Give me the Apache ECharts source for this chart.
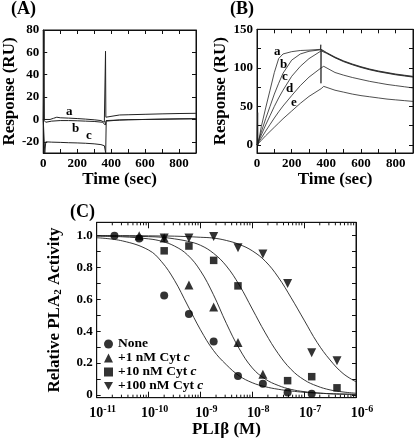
<!DOCTYPE html>
<html><head><meta charset="utf-8">
<script src="https://cdn.jsdelivr.net/npm/echarts@6/dist/echarts.min.js"></script>
<style>html,body{margin:0;padding:0;background:#fff}#c{width:416px;height:442px}</style>
</head><body><div id="c"></div>
<script>
// ---------- Panel A: sensorgrams (Time sec, Response RU) ----------
const aT_a = [0, 3, 5, 7, 15, 40, 60, 80, 100, 150, 200, 250, 300, 340, 360, 365, 367, 369, 372, 380, 450, 500, 600, 700, 800, 900];
const aV_a = [0, 0, 80, 0, -1, 0, 1, 2, 1.5, 1.2, 0.8, 0.3, -0.3, -1, -2.5, -4, 61, 2, 3, 3.5, 4, 4.2, 4.6, 5, 5.3, 5.5];
const aT_b = [0, 10, 15, 50, 100, 150, 200, 250, 300, 350, 360, 366, 370, 380, 450, 500, 600, 700, 800, 900];
const aV_b = [0, 0, -2.5, -1.5, -1, -1, -1.2, -1.5, -1.8, -2.5, -3, -5, -1, -1, -0.5, -0.3, 0, 0.2, 0.5, 0.6];
const aT_c = [0, 6, 9, 15, 50, 100, 150, 200, 250, 300, 340, 360, 366, 368, 371, 380, 450, 500, 600, 700, 800, 900];
const aV_c = [0, 0, -30, -20, -20.3, -20.5, -20.8, -21, -21.3, -21.8, -22.5, -23.5, -24, -30, -1.5, -1, -0.5, -0.2, 0, 0.3, 0.5, 0.7];

// ---------- Panel B: sensorgrams ----------
const bT_a = [0, 2, 4, 6, 25, 50, 75, 100, 125, 150, 200, 250, 300, 366, 368, 369, 371, 400, 450, 500, 550, 600, 650, 700, 750, 800, 850, 900];
const bV_a = [0, 0, 42, 0, 24, 48, 71, 94, 112, 118, 121, 122.5, 123, 124, 130, 80, 124, 120, 114, 109, 105, 101.5, 98.5, 96, 94, 92, 90.5, 89];
const bT_b = [0, 25, 50, 75, 100, 125, 150, 200, 250, 300, 370, 400, 450, 500, 550, 600, 650, 700, 750, 800, 850, 900];
const bV_b = [0, 17, 34, 50, 66, 80, 93, 110, 118, 121.5, 123.5, 119.5, 113.5, 108.5, 104.5, 101, 98, 95.5, 93.5, 91.5, 90, 88.5];
const bT_c = [0, 25, 50, 75, 100, 125, 150, 200, 250, 300, 370, 400, 450, 500, 550, 600, 650, 700, 750, 800, 850, 900];
const bV_c = [0, 13, 26, 38, 50, 61, 71, 89, 102, 112, 122, 119, 113, 108, 104, 100.5, 97.5, 95, 93, 91, 89.5, 88];
const bT_d = [0, 25, 50, 75, 100, 125, 150, 200, 250, 300, 370, 385, 450, 500, 550, 600, 650, 700, 750, 800, 850, 900];
const bV_d = [0, 9, 18, 26.5, 35, 43, 50.5, 64, 77, 88, 100, 102, 94, 90.5, 87.5, 85, 82.5, 80.5, 78.5, 77, 75.5, 74];
const bT_e = [0, 25, 50, 75, 100, 125, 150, 200, 250, 300, 370, 385, 450, 500, 550, 600, 650, 700, 750, 800, 850, 900];
const bV_e = [0, 6, 12, 17.5, 23, 28.5, 34, 44, 54, 63, 73, 76, 71, 68.5, 66, 64, 62.5, 61, 59.5, 58.5, 57.5, 56.5];

// ---------- Panel C: inhibition ----------
const concC = [2.2e-11, 6.6e-11, 2e-10, 6e-10, 1.8e-9, 5.3e-9, 1.6e-8, 4.8e-8, 1.4e-7, 4.3e-7];
const actNone = [1.0, 0.983, 0.625, 0.508, 0.335, 0.119, 0.071, 0.015, 0.008, null];
const act1nM = [null, 1.0, 0.985, 0.69, 0.553, 0.33, 0.13, null, null, null];
const act10nM = [null, null, 0.905, 0.935, 0.845, 0.685, null, 0.09, 0.115, 0.045];
const act100nM = [null, null, 0.985, 0.985, 0.995, 0.925, 0.885, 0.70, 0.265, 0.215];

const fitX = [1e-11, 3.16e-11, 1e-10, 1.78e-10, 3.16e-10, 5.62e-10, 1e-9, 1.78e-9, 3.16e-9, 5.62e-9, 1e-8, 1.78e-8, 3.16e-8, 5.62e-8, 1e-7, 1.78e-7, 3.16e-7, 5.62e-7, 1e-6];
const fitNone = [0.987, 0.967, 0.91, 0.837, 0.72, 0.565, 0.41, 0.28, 0.19, 0.12, 0.077, 0.052, 0.036, 0.025, 0.017, 0.012, 0.008, 0.006, 0.004];
const fit1nM = [0.997, 0.993, 0.98, 0.965, 0.935, 0.88, 0.78, 0.63, 0.45, 0.29, 0.17, 0.10, 0.06, 0.035, 0.021, 0.013, 0.008, 0.005, 0.003];
const fit10nM = [1.0, 0.998, 0.994, 0.99, 0.98, 0.965, 0.94, 0.89, 0.81, 0.69, 0.54, 0.39, 0.26, 0.16, 0.095, 0.056, 0.032, 0.019, 0.011];
const fit100nM = [1.0, 1.0, 0.999, 0.998, 0.997, 0.994, 0.99, 0.985, 0.97, 0.945, 0.905, 0.84, 0.74, 0.61, 0.47, 0.33, 0.22, 0.135, 0.083];

const legendNames = ['None', '+1 nM Cyt c', '+10 nM Cyt c', '+100 nM Cyt c'];
const decades = [1e-11, 1e-10, 1e-9, 1e-8, 1e-7];
const minorMult = [2, 3, 4, 5, 6, 7, 8, 9];

const xTicksAB = [0, 200, 400, 600, 800];
const yLabelsA = [-20, 0, 20, 40, 60, 80];
const yLabelsB = [0, 50, 100, 150];
const yTicksB = [0, 25, 50, 75, 100, 125, 150];
const yLabelsC = [0, 0.2, 0.4, 0.6, 0.8, 1.0];
const yTicksC = [0, 0.1, 0.2, 0.3, 0.4, 0.5, 0.6, 0.7, 0.8, 0.9, 1.0];

// ---------- helpers ----------
const F = 'Liberation Serif, Times New Roman, serif';
const INK = '#111';
const zip = (xs, ys) => xs.map((x, i) => [x, ys[i]]).filter(p => p[1] !== null);
const minorTicks = [];
decades.forEach(d => minorMult.forEach(m => minorTicks.push([d * m, 0.5])));

function linX(gi, min, max, bottom) {
  return {
    type: 'value', gridIndex: gi, min, max, interval: 100,
    position: bottom ? 'bottom' : 'top',
    axisLine: { show: true, onZero: false, lineStyle: { color: INK, width: 1 } },
    axisTick: { show: true, inside: true, length: 4, lineStyle: { color: INK } },
    axisLabel: bottom ? { show: true, margin: 4, color: '#000', fontFamily: F, fontWeight: 'bold', fontSize: 13,
      formatter: v => (xTicksAB.indexOf(v) >= 0 ? String(v) : '') } : { show: false },
    splitLine: { show: false },
    name: bottom ? 'Time (sec)' : '', nameLocation: 'middle', nameGap: 18,
    nameTextStyle: { fontFamily: F, fontWeight: 'bold', fontSize: 17, color: '#000' }
  };
}
function linY(gi, min, max, labels, ticks, left, name, gap, fmt) {
  return {
    type: 'value', gridIndex: gi, min, max,
    position: left ? 'left' : 'right',
    axisLine: { show: true, onZero: false, lineStyle: { color: INK, width: 1 } },
    axisTick: { show: true, inside: true, length: 4, customValues: ticks, lineStyle: { color: INK } },
    axisLabel: left ? { show: true, margin: 4, customValues: labels, color: '#000', fontFamily: F, fontWeight: 'bold', fontSize: 13,
      formatter: fmt || (v => String(v)) } : { show: false, customValues: labels },
    splitLine: { show: false },
    name: left ? name : '', nameLocation: 'middle', nameGap: gap,
    nameTextStyle: { fontFamily: F, fontWeight: 'bold', fontSize: 17, color: '#000', rich: {
      n: { fontFamily: F, fontWeight: 'bold', fontSize: 17, color: '#000' },
      s: { fontFamily: F, fontWeight: 'bold', fontSize: 11, color: '#000', padding: [8, 0, 0, 0] } } }
  };
}
function logX(gi, bottom) {
  return {
    type: 'log', logBase: 10, gridIndex: gi, min: 1e-11, max: 1e-6, splitNumber: 5,
    position: bottom ? 'bottom' : 'top',
    axisLine: { show: true, onZero: false, lineStyle: { color: INK, width: 1 } },
    axisTick: { show: true, inside: true, length: 6, lineStyle: { color: INK } },
    axisLabel: bottom ? { show: true, margin: 7, color: '#000', fontFamily: F, fontWeight: 'bold', fontSize: 14,
      formatter: v => '{p|}{b|10}{s|' + Math.round(Math.log10(v)) + '}',
      rich: { p: { width: 12 }, b: { fontFamily: F, fontWeight: 'bold', fontSize: 14, color: '#000' },
              s: { fontFamily: F, fontWeight: 'bold', fontSize: 10, color: '#000', padding: [0, 0, 8, 0] } } } : { show: false },
    splitLine: { show: false },
    name: bottom ? 'PLIβ (M)' : '', nameLocation: 'middle', nameGap: 22,
    nameTextStyle: { fontFamily: F, fontWeight: 'bold', fontSize: 17, color: '#000' }
  };
}
const lineS = (xi, yi, data, w) => ({ type: 'line', xAxisIndex: xi, yAxisIndex: yi, data, showSymbol: false, symbol: 'none',
  lineStyle: { color: '#222', width: w || 1 }, silent: true, animation: false });
const fitS = (ys) => ({ type: 'line', name: 'fit', xAxisIndex: 4, yAxisIndex: 4, data: zip(fitX, ys), showSymbol: false, symbol: 'none',
  smooth: 0.4, lineStyle: { color: '#222', width: 0.9 }, silent: true });
const scatS = (name, ys, symbol, size) => ({ type: 'scatter', name, xAxisIndex: 4, yAxisIndex: 4, data: zip(concC, ys),
  symbol, symbolSize: size, itemStyle: { color: '#000' }, z: 5 });
const DOWN = 'path://M0,0 L10,0 L5,9 Z';

const txt = (x, y, t, size) => ({ type: 'text', left: x, top: y, style: { text: t, fontFamily: F, fontWeight: 'bold', fontSize: size, fill: '#000' } });

const option = {
  animation: false,
  backgroundColor: '#fff',
  grid: [
    { left: 37.5, top: 30, width: 158.5, height: 123, show: true, borderColor: INK, borderWidth: 1 },
    { left: 257, top: 29.3, width: 158, height: 123.7, show: true, borderColor: INK, borderWidth: 1 },
    { left: 96.7, top: 222.3, width: 259.3, height: 175.4, show: true, borderColor: INK, borderWidth: 1 }
  ],
  xAxis: [linX(0, 0, 900, true), linX(0, 0, 900, false), linX(1, 0, 900, true), linX(1, 0, 900, false), logX(2, true), logX(2, false)],
  yAxis: [
    linY(0, -30, 80, yLabelsA, yLabelsA, true, 'Response (RU)', 21),
    linY(0, -30, 80, yLabelsA, yLabelsA, false, '', 0),
    linY(1, -10.4, 150, yLabelsB, yTicksB, true, 'Response (RU)', 25),
    linY(1, -10.4, 150, yLabelsB, yTicksB, false, '', 0),
    linY(2, -0.017, 1.084, yLabelsC, yTicksC, true, '{n|Relative PLA}{s|2}{n| Activity}', 33, v => (v === 0 ? '0' : v.toFixed(1))),
    linY(2, -0.017, 1.084, yLabelsC, yTicksC, false, '', 0)
  ],
  legend: {
    data: legendNames.map(n => ({ name: n })),
    orient: 'vertical', left: 99, top: 332, itemWidth: 9, itemHeight: 9, itemGap: 0,
    textStyle: { fontFamily: F, fontWeight: 'bold', fontSize: 13.5, color: '#000', lineHeight: 12.8,
      rich: { i: { fontFamily: F, fontWeight: 'bold', fontStyle: 'italic', fontSize: 13.5, color: '#000' } } },
    formatter: n => n.replace(/ c$/, ' {i|c}'),
    selectedMode: false
  },
  series: [
    lineS(0, 0, zip(aT_a, aV_a)), lineS(0, 0, zip(aT_b, aV_b)), lineS(0, 0, zip(aT_c, aV_c)),
    lineS(2, 2, zip(bT_a, bV_a), 0.8), lineS(2, 2, zip(bT_b, bV_b), 0.8), lineS(2, 2, zip(bT_c, bV_c), 0.8),
    lineS(2, 2, zip(bT_d, bV_d), 0.8), lineS(2, 2, zip(bT_e, bV_e), 0.8),
    fitS(fitNone), fitS(fit1nM), fitS(fit10nM), fitS(fit100nM),
    scatS('None', actNone, 'circle', 8),
    scatS('+1 nM Cyt c', act1nM, 'triangle', 9),
    scatS('+10 nM Cyt c', act10nM, 'rect', 7.5),
    scatS('+100 nM Cyt c', act100nM, DOWN, 9),
    { type: 'custom', xAxisIndex: 4, yAxisIndex: 4, data: minorTicks, silent: true, clip: false,
      renderItem: (params, api) => {
        const cs = params.coordSys;
        const x = api.coord([api.value(0), 0.5])[0];
        return { type: 'group', children: [
          { type: 'line', shape: { x1: x, y1: cs.y + cs.height, x2: x, y2: cs.y + cs.height - 3 }, style: { stroke: INK, lineWidth: 1 } },
          { type: 'line', shape: { x1: x, y1: cs.y, x2: x, y2: cs.y + 3 }, style: { stroke: INK, lineWidth: 1 } }
        ] };
      } }
  ],
  graphic: [
    txt(11, 0, '(A)', 18), txt(230, 0, '(B)', 18), txt(70, 203, '(C)', 18),
    txt(66, 105, 'a', 13), txt(72, 122, 'b', 13), txt(86, 129, 'c', 13),
    txt(274, 45, 'a', 13), txt(280, 58, 'b', 13), txt(282, 70, 'c', 13), txt(286, 82, 'd', 13), txt(291, 96, 'e', 13)
  ]
};
const chart = echarts.init(document.getElementById('c'), null, { renderer: 'canvas' });
chart.setOption(option);
</script></body></html>
